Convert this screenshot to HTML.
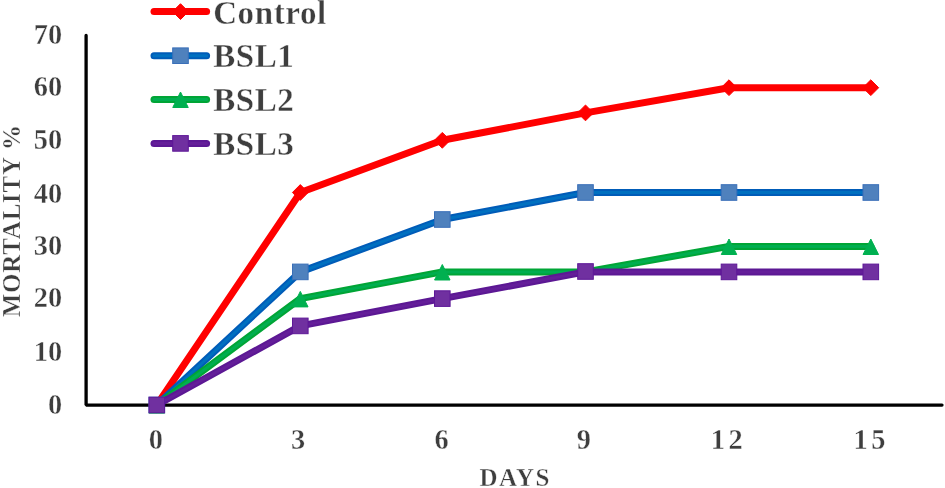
<!DOCTYPE html>
<html><head><meta charset="utf-8"><style>
html,body{margin:0;padding:0;background:#fff;width:945px;height:488px;overflow:hidden}
svg{display:block;will-change:transform}
text{font-family:"Liberation Serif",serif;font-weight:bold;fill:#3e3e3e;stroke:#fff;stroke-width:0.35px}
.tk{font-size:28.4px}
.ti{font-size:25px}
.lg{font-size:33px}
</style></head><body>
<svg width="945" height="488" viewBox="0 0 945 488">
<path d="M86.1 35.5 L86.1 405.1 L942 405.1" fill="none" stroke="#000" stroke-width="3.3" stroke-linejoin="bevel" stroke-linecap="round"/>
<text x="62.2" y="414" text-anchor="end" class="tk">0</text>
<text x="62.2" y="361" text-anchor="end" class="tk">10</text>
<text x="62.2" y="307" text-anchor="end" class="tk">20</text>
<text x="62.2" y="255" text-anchor="end" class="tk">30</text>
<text x="62.2" y="203" text-anchor="end" class="tk">40</text>
<text x="62.2" y="149" text-anchor="end" class="tk">50</text>
<text x="62.2" y="96" text-anchor="end" class="tk">60</text>
<text x="62.2" y="44" text-anchor="end" class="tk">70</text>
<text x="155.90" y="448.6" text-anchor="middle" class="tk">0</text>
<text x="298.20" y="448.6" text-anchor="middle" class="tk">3</text>
<text x="441.70" y="448.6" text-anchor="middle" class="tk">6</text>
<text x="583.80" y="448.6" text-anchor="middle" class="tk">9</text>
<text x="728.45" y="448.5" text-anchor="middle" class="tk" style="letter-spacing:3.5px">12</text>
<text x="871.25" y="448.5" text-anchor="middle" class="tk" style="letter-spacing:3.5px">15</text>
<text x="515.2" y="486" text-anchor="middle" class="ti" style="letter-spacing:1.4px">DAYS</text>
<text transform="translate(19.7,220.8) rotate(-90)" text-anchor="middle" class="ti" style="letter-spacing:0.76px">MORTALITY %</text>
<polyline points="156.80,405.00 300.30,192.50 442.30,140.30 585.50,112.90 729.00,87.70 870.80,87.70" fill="none" stroke="#FF0000" stroke-width="7.0" stroke-linejoin="round" stroke-linecap="round"/>
<polyline points="156.80,405.00 300.30,271.90 442.30,219.50 585.50,192.50 729.00,192.50 870.80,192.50" fill="none" stroke="#005CB8" stroke-width="7.0" stroke-linejoin="round" stroke-linecap="round"/>
<polyline points="156.80,405.00 300.30,271.90 442.30,219.50 585.50,192.50 729.00,192.50 870.80,192.50" fill="none" stroke="#0070C0" stroke-width="3" stroke-linejoin="round" stroke-linecap="round"/>
<polyline points="156.80,405.00 300.30,298.60 442.30,271.90 585.50,271.90 729.00,246.40 870.80,246.40" fill="none" stroke="#00A536" stroke-width="7.0" stroke-linejoin="round" stroke-linecap="round"/>
<polyline points="156.80,405.00 300.30,298.60 442.30,271.90 585.50,271.90 729.00,246.40 870.80,246.40" fill="none" stroke="#00AE50" stroke-width="3" stroke-linejoin="round" stroke-linecap="round"/>
<polyline points="156.80,405.00 300.30,325.90 442.30,298.60 585.50,271.90 729.00,271.90 870.80,271.90" fill="none" stroke="#5C1894" stroke-width="7.0" stroke-linejoin="round" stroke-linecap="round"/>
<polyline points="156.80,405.00 300.30,325.90 442.30,298.60 585.50,271.90 729.00,271.90 870.80,271.90" fill="none" stroke="#641E99" stroke-width="3" stroke-linejoin="round" stroke-linecap="round"/>
<path d="M156.80 397.10 L164.70 405.00 L156.80 412.90 L148.90 405.00Z" fill="#FF0000" stroke="#FF0000" stroke-width="1" stroke-linejoin="round"/>
<path d="M300.30 184.60 L308.20 192.50 L300.30 200.40 L292.40 192.50Z" fill="#FF0000" stroke="#FF0000" stroke-width="1" stroke-linejoin="round"/>
<path d="M442.30 132.40 L450.20 140.30 L442.30 148.20 L434.40 140.30Z" fill="#FF0000" stroke="#FF0000" stroke-width="1" stroke-linejoin="round"/>
<path d="M585.50 105.00 L593.40 112.90 L585.50 120.80 L577.60 112.90Z" fill="#FF0000" stroke="#FF0000" stroke-width="1" stroke-linejoin="round"/>
<path d="M729.00 79.80 L736.90 87.70 L729.00 95.60 L721.10 87.70Z" fill="#FF0000" stroke="#FF0000" stroke-width="1" stroke-linejoin="round"/>
<path d="M870.80 79.80 L878.70 87.70 L870.80 95.60 L862.90 87.70Z" fill="#FF0000" stroke="#FF0000" stroke-width="1" stroke-linejoin="round"/>
<rect x="149.00" y="397.20" width="15.6" height="15.6" fill="#4F81BD" stroke="#3A6FB8" stroke-width="1"/>
<rect x="292.50" y="264.10" width="15.6" height="15.6" fill="#4F81BD" stroke="#3A6FB8" stroke-width="1"/>
<rect x="434.50" y="211.70" width="15.6" height="15.6" fill="#4F81BD" stroke="#3A6FB8" stroke-width="1"/>
<rect x="577.70" y="184.70" width="15.6" height="15.6" fill="#4F81BD" stroke="#3A6FB8" stroke-width="1"/>
<rect x="721.20" y="184.70" width="15.6" height="15.6" fill="#4F81BD" stroke="#3A6FB8" stroke-width="1"/>
<rect x="863.00" y="184.70" width="15.6" height="15.6" fill="#4F81BD" stroke="#3A6FB8" stroke-width="1"/>
<path d="M156.80 397.60 L164.55 413.10 L149.05 413.10Z" fill="#00B050" stroke="#00B050" stroke-width="1" stroke-linejoin="round"/>
<path d="M300.30 291.40 L308.05 306.90 L292.55 306.90Z" fill="#00B050" stroke="#00B050" stroke-width="1" stroke-linejoin="round"/>
<path d="M442.30 264.50 L450.05 280.00 L434.55 280.00Z" fill="#00B050" stroke="#00B050" stroke-width="1" stroke-linejoin="round"/>
<path d="M729.00 239.00 L736.75 254.50 L721.25 254.50Z" fill="#00B050" stroke="#00B050" stroke-width="1" stroke-linejoin="round"/>
<path d="M870.80 239.00 L878.55 254.50 L863.05 254.50Z" fill="#00B050" stroke="#00B050" stroke-width="1" stroke-linejoin="round"/>
<rect x="149.00" y="397.20" width="15.6" height="15.6" fill="#7030A0" stroke="#5E1898" stroke-width="1"/>
<rect x="292.50" y="318.10" width="15.6" height="15.6" fill="#7030A0" stroke="#5E1898" stroke-width="1"/>
<rect x="434.50" y="290.80" width="15.6" height="15.6" fill="#7030A0" stroke="#5E1898" stroke-width="1"/>
<rect x="577.70" y="263.70" width="15.6" height="15.6" fill="#7030A0" stroke="#5E1898" stroke-width="1"/>
<rect x="721.20" y="264.10" width="15.6" height="15.6" fill="#7030A0" stroke="#5E1898" stroke-width="1"/>
<rect x="863.00" y="264.10" width="15.6" height="15.6" fill="#7030A0" stroke="#5E1898" stroke-width="1"/>
<line x1="154" y1="11.6" x2="206.6" y2="11.6" stroke="#FF0000" stroke-width="7.0" stroke-linecap="round"/>
<path d="M180.50 3.70 L188.40 11.60 L180.50 19.50 L172.60 11.60Z" fill="#FF0000" stroke="#FF0000" stroke-width="1" stroke-linejoin="round"/>
<text x="213.2" y="24.20" class="lg" style="letter-spacing:0.6px">Control</text>
<line x1="154" y1="55.7" x2="206.6" y2="55.7" stroke="#005CB8" stroke-width="7.0" stroke-linecap="round"/>
<line x1="154" y1="55.7" x2="206.6" y2="55.7" stroke="#0070C0" stroke-width="3" stroke-linecap="round"/>
<rect x="172.70" y="47.90" width="15.6" height="15.6" fill="#4F81BD" stroke="#3A6FB8" stroke-width="1"/>
<text x="213.2" y="67.30" class="lg" style="letter-spacing:0.6px">BSL1</text>
<line x1="154" y1="99.4" x2="206.6" y2="99.4" stroke="#00A536" stroke-width="7.0" stroke-linecap="round"/>
<line x1="154" y1="99.4" x2="206.6" y2="99.4" stroke="#00AE50" stroke-width="3" stroke-linecap="round"/>
<path d="M180.50 92.00 L188.25 107.50 L172.75 107.50Z" fill="#00B050" stroke="#00B050" stroke-width="1" stroke-linejoin="round"/>
<text x="213.2" y="111.00" class="lg" style="letter-spacing:0.6px">BSL2</text>
<line x1="154" y1="143.4" x2="206.6" y2="143.4" stroke="#5C1894" stroke-width="7.0" stroke-linecap="round"/>
<line x1="154" y1="143.4" x2="206.6" y2="143.4" stroke="#641E99" stroke-width="3" stroke-linecap="round"/>
<rect x="172.70" y="135.60" width="15.6" height="15.6" fill="#7030A0" stroke="#5E1898" stroke-width="1"/>
<text x="213.2" y="155.00" class="lg" style="letter-spacing:0.6px">BSL3</text>
</svg>
</body></html>
